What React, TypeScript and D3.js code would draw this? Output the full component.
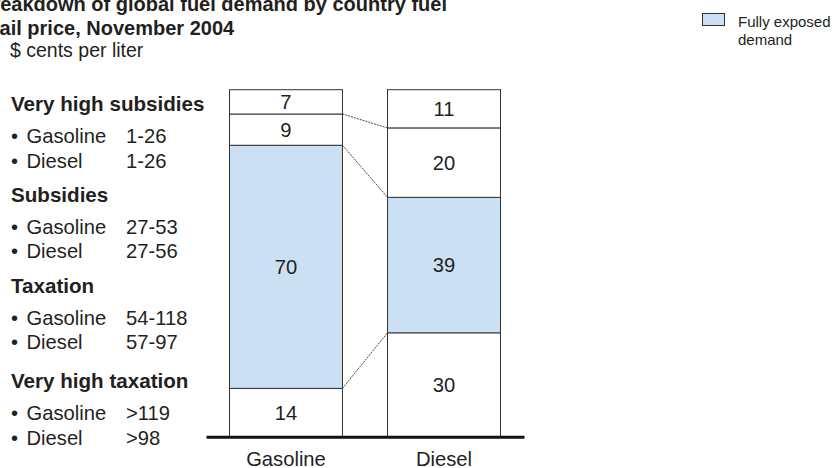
import React from "react";
import * as d3 from "d3";

const categories = ["Gasoline", "Diesel"];
const segmentNames = ["Very high taxation", "Taxation", "Subsidies", "Very high subsidies"];
const gasolineValues = [14, 70, 9, 7];
const dieselValues = [30, 39, 20, 11];
const highlightSegment = "Taxation";

const titleLines = [
  "Breakdown of global fuel demand by country fuel",
  "retail price, November 2004",
];
const subtitle = "$ cents per liter";
const legendLines = ["Fully exposed", "demand"];

const groupHeaders = ["Very high subsidies", "Subsidies", "Taxation", "Very high taxation"];
const groupRows = [
  [["Gasoline", "1-26"], ["Diesel", "1-26"]],
  [["Gasoline", "27-53"], ["Diesel", "27-56"]],
  [["Gasoline", "54-118"], ["Diesel", "57-97"]],
  [["Gasoline", ">119"], ["Diesel", ">98"]],
];

const W = 833;
const H = 468;
const FONT = "'Liberation Sans', Arial, Helvetica, sans-serif";
const TEXT = "#231f20";
const STROKE = "#333333";
const FILL_HI = "#cbe0f3";

export default function App() {
  const seriesByCat: Record<string, number[]> = {
    Gasoline: gasolineValues,
    Diesel: dieselValues,
  };
  const x = d3.scaleBand<string>().domain(categories).range([229.5, 500.5]).paddingInner(0.285).paddingOuter(0);
  const y = d3.scaleLinear().domain([0, 100]).range([437, 89.7]);

  const stacks = categories.map((c) => {
    const vals = seriesByCat[c];
    let cum = 0;
    return vals.map((v, i) => {
      const s = { name: segmentNames[i], v, y0: cum, y1: cum + v };
      cum += v;
      return s;
    });
  });

  const gx = x("Gasoline")!;
  const dx = x("Diesel")!;
  const bw = x.bandwidth();

  const connectors: { a: number; b: number }[] = [];
  for (let i = 0; i < segmentNames.length - 1; i++) {
    connectors.push({ a: stacks[0][i].y1, b: stacks[1][i].y1 });
  }

  const headerBaselines = [111, 201.5, 292.5, 388];
  const rowOffsets = [32, 56.5];
  const titleStarts = [-22, -26];

  return (
    <svg
      width={W}
      height={H}
      style={{ position: "absolute", left: 0, top: 0, display: "block", background: "#fff" }}
      fontFamily={FONT}
    >
      {/* Title */}
      {titleLines.map((t, i) => (
        <text key={t} x={titleStarts[i]} y={10.5 + i * 24} fontSize={20} fontWeight="bold" fill={TEXT}>
          {t}
        </text>
      ))}
      <text x={10} y={57} fontSize={19.5} fill={TEXT}>
        {subtitle}
      </text>

      {/* Legend */}
      <rect x={702.5} y={13.5} width={22} height={12} fill={FILL_HI} stroke={STROKE} strokeWidth={1} />
      {legendLines.map((t, i) => (
        <text key={t} x={738} y={27 + i * 18} fontSize={15} fill={TEXT}>
          {t}
        </text>
      ))}

      {/* Left labels */}
      {groupHeaders.map((h, gi) => (
        <g key={h}>
          <text x={11} y={headerBaselines[gi]} fontSize={20.6} fontWeight="bold" fill={TEXT}>
            {h}
          </text>
          {groupRows[gi].map((r, ri) => (
            <g key={r[0]}>
              <text x={11} y={headerBaselines[gi] + rowOffsets[ri]} fontSize={20} fill={TEXT}>
                •
              </text>
              <text x={26.5} y={headerBaselines[gi] + rowOffsets[ri]} fontSize={20.2} fill={TEXT}>
                {r[0]}
              </text>
              <text x={126} y={headerBaselines[gi] + rowOffsets[ri]} fontSize={20.2} fill={TEXT}>
                {r[1]}
              </text>
            </g>
          ))}
        </g>
      ))}

      {/* Bars */}
      {categories.map((c, ci) => (
        <g key={c}>
          {stacks[ci].map((s) => (
            <g key={s.name}>
              <rect
                x={x(c)!}
                y={y(s.y1)}
                width={bw}
                height={y(s.y0) - y(s.y1)}
                fill={s.name === highlightSegment ? FILL_HI : "#ffffff"}
                stroke={STROKE}
                strokeWidth={1}
              />
              <text
                x={x(c)! + bw / 2}
                y={(y(s.y0) + y(s.y1)) / 2 + 7}
                fontSize={20.2}
                textAnchor="middle"
                fill={TEXT}
              >
                {s.v}
              </text>
            </g>
          ))}
          <text x={x(c)! + bw / 2} y={466} fontSize={20.2} textAnchor="middle" fill={TEXT}>
            {c}
          </text>
        </g>
      ))}

      {/* Connectors */}
      {connectors.map((cn, i) => (
        <line
          key={i}
          x1={gx + bw}
          y1={y(cn.a)}
          x2={dx}
          y2={y(cn.b)}
          stroke={STROKE}
          strokeWidth={0.9}
          strokeDasharray="2,1"
        />
      ))}

      {/* Baseline */}
      <line x1={206.5} x2={524.5} y1={y(0) + 0.3} y2={y(0) + 0.3} stroke="#111" strokeWidth={3} />
    </svg>
  );
}
